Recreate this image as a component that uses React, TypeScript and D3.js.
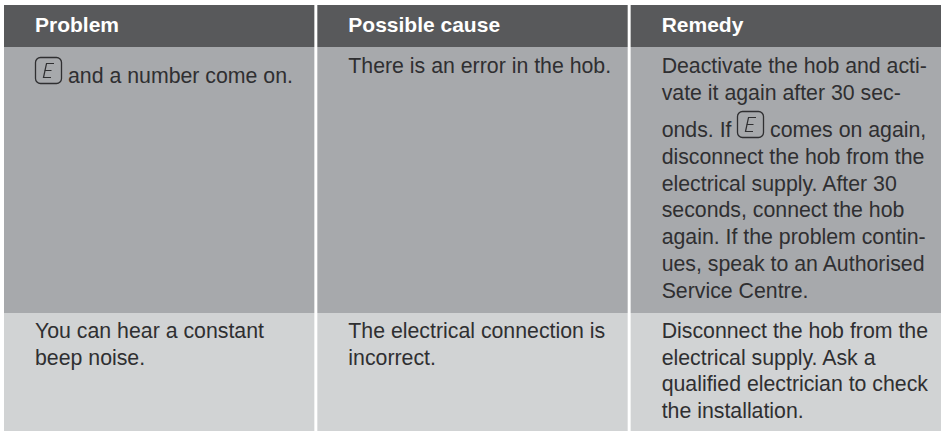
import React from 'react'
import * as d3 from 'd3'

const width = 941
const height = 431

const columns = ['Problem', 'Possible cause', 'Remedy']
const rowEdges = [5, 47, 313, 431]

const problemOne = ['and a number come on.']
const causeOne = ['There is an error in the hob.']
const remedyOne = [
  'Deactivate the hob and acti-',
  'vate it again after 30 sec-'
]
const remedyIconLine = ['onds. If', 'comes on again,']
const remedyOneRest = [
  'disconnect the hob from the',
  'electrical supply. After 30',
  'seconds, connect the hob',
  'again. If the problem contin-',
  'ues, speak to an Authorised',
  'Service Centre.'
]
const problemTwo = ['You can hear a constant', 'beep noise.']
const causeTwo = ['The electrical connection is', 'incorrect.']
const remedyTwo = [
  'Disconnect the hob from the',
  'electrical supply. Ask a',
  'qualified electrician to check',
  'the installation.'
]

const fills = ['#58595b', '#a7a9ac', '#d1d3d4']
const ink = '#2f2f31'
const font = 'Liberation Sans, Arial, sans-serif'
const fontSize = 21.3

const xScale = d3
  .scaleBand<string>()
  .domain(columns)
  .range([4, 941])
  .paddingInner(0.0095)

// line index to baseline offset
const lineY = d3.scaleLinear().domain([0, 1]).range([0, 26.7])

const EIcon = ({ x, y }: { x: number; y: number }) => (
  <g transform={`translate(${x},${y})`} fill="none" stroke="#2f2f31">
    <rect x={0.5} y={0.5} width={26} height={26} rx={5} strokeWidth={1.3} />
    <path d="M19 6.5 L11.5 6.5 L10 13.5 L16.5 13.5 M10 13.5 L8.5 20.5 L16 20.5" strokeWidth={1.2} />
  </g>
)

const Lines = ({ lines, x, y }: { lines: string[]; x: number; y: number }) => (
  <>
    {lines.map((t, i) => (
      <text key={i} x={x} y={y + lineY(i)} fontSize={fontSize} fill={ink}>
        {t}
      </text>
    ))}
  </>
)

const App = () => {
  const textX = (c: string) => (xScale(c) as number) + 31
  const [colA, colB, colC] = columns.map(textX)
  return (
    <svg
      width={width}
      height={height}
      style={{ position: 'absolute', left: 0, top: 0, background: '#fff' }}
      fontFamily={font}
    >
      {rowEdges.slice(0, -1).map((top, r) =>
        columns.map(c => (
          <rect
            key={c + r}
            x={xScale(c)}
            y={top}
            width={xScale.bandwidth()}
            height={rowEdges[r + 1] - top}
            fill={fills[r]}
          />
        ))
      )}
      {columns.map(c => (
        <text key={c} x={textX(c)} y={32} fill="#fff" fontWeight="bold" fontSize={21}>
          {c}
        </text>
      ))}

      <EIcon x={35} y={57} />
      <Lines lines={problemOne} x={68} y={83} />
      <Lines lines={causeOne} x={colB} y={73} />

      <Lines lines={remedyOne} x={colC} y={73} />
      <Lines lines={[remedyIconLine[0]]} x={colC} y={137} />
      <EIcon x={737} y={111} />
      <Lines lines={[remedyIconLine[1]]} x={770} y={137} />
      <Lines lines={remedyOneRest} x={colC} y={164} />

      <Lines lines={problemTwo} x={colA} y={338} />
      <Lines lines={causeTwo} x={colB} y={338} />
      <Lines lines={remedyTwo} x={colC} y={338} />
    </svg>
  )
}

export default App
